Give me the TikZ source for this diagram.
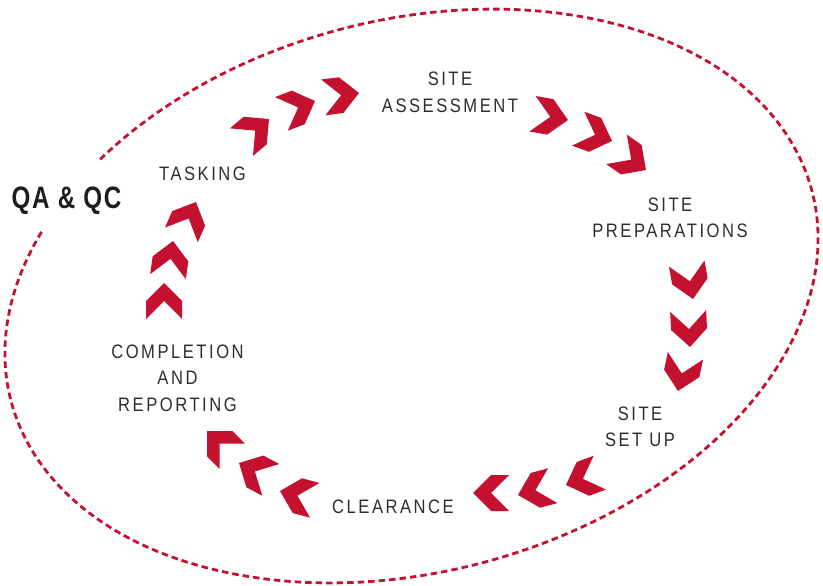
\documentclass[tikz,border=0pt]{standalone}
\usepackage{fontspec}
\newfontfamily\labfont[FakeStretch=0.85,LetterSpace=13]{Liberation Sans}
\newfontfamily\qafont[FakeStretch=0.78,LetterSpace=5]{Liberation Sans}
\definecolor{qred}{RGB}{197,17,48}
\definecolor{qtext}{RGB}{45,45,45}
\definecolor{qdark}{RGB}{30,28,30}
\tikzset{
  chev/.pic={\fill[qred] (0pt,0pt) -- (-18pt,18pt) -- (-36pt,18pt) -- (-18pt,0pt) -- (-36pt,-18pt) -- (-18pt,-18pt) -- cycle;},
  lab/.style={font=\labfont\fontsize{19.5}{26.5}\selectfont, text=qtext, align=center, inner sep=0pt},
  qalab/.style={font=\qafont\bfseries\fontsize{31}{33}\selectfont, text=qdark, inner sep=0pt},
  ell/.style={draw=qred, line width=2.8pt, dash pattern=on 6.5pt off 4pt}
}
\begin{document}
\begin{tikzpicture}[x=1pt,y=-1pt]
\useasboundingbox (0,0) rectangle (823,586);
% dashed ellipse with a gap for the QA & QC label
\begin{scope}[shift={(411.5,296)}, rotate=14.7]
\draw[ell] (145.6:414pt and 276pt) arc[start angle=145.6, end angle=490.2, x radius=414pt, y radius=276pt];
\end{scope}
% labels
\node[lab] (assess) at (450,92.5) {SITE\\ASSESSMENT};
\node[lab] (prep) at (670,218) {SITE\\PREPARATIONS};
\node[lab] (setup) at (640,427) {SITE\\SET UP};
\node[lab] (clear) at (393,507) {CLEARANCE};
\node[lab] (report) at (177.5,378) {COMPLETION\\AND\\REPORTING};
\node[lab] (task) at (202.5,174) {TASKING};
\node[qalab] (qa) at (66.5,201) {QA \& QC};
% chevrons: tasking -> assessment
\pic[rotate=40] at (269,119) {chev};
\pic[rotate=21] at (315,101) {chev};
\pic[rotate=7] at (359,93) {chev};
% assessment -> preparations
\pic[rotate=-10] at (568,120) {chev};
\pic[rotate=-20] at (612,141) {chev};
\pic[rotate=-35] at (646,170) {chev};
% preparations -> set up
\pic[rotate=-80] at (693,299) {chev};
\pic[rotate=-87] at (690,347) {chev};
\pic[rotate=-102] at (678,391) {chev};
% set up -> clearance
\pic[rotate=-160] at (566,485) {chev};
\pic[rotate=-165] at (518,495) {chev};
\pic[rotate=180] at (473,493) {chev};
% clearance -> completion
\pic[rotate=165] at (280,491) {chev};
\pic[rotate=152] at (239,463) {chev};
\pic[rotate=135] at (207,431) {chev};
% completion -> tasking
\pic[rotate=90] at (164,283) {chev};
\pic[rotate=82] at (173,241) {chev};
\pic[rotate=66] at (196,202) {chev};
\end{tikzpicture}
\end{document}
